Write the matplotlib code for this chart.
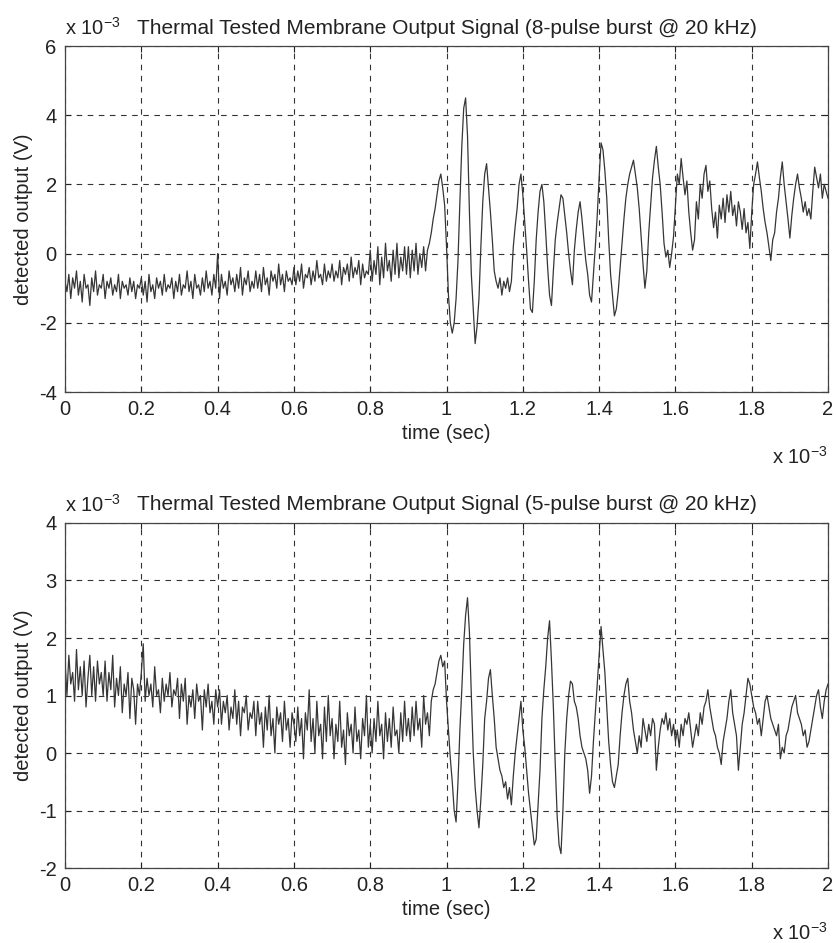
import matplotlib
matplotlib.use('Agg')
import matplotlib.pyplot as plt
import numpy as np

plt.rcParams['font.family'] = ['Liberation Sans', 'DejaVu Sans']
plt.rcParams['mathtext.default'] = 'regular'
plt.rcParams['axes.unicode_minus'] = False

# time axis in ms (shown with a x 10^-3 multiplier), one sample every 0.005 ms
time_ms = np.round(np.arange(0, 401) * 0.005, 3)

# 8-pulse burst, values in mV (x 10^-3 V)
burst8 = [
    -0.8, -1.1, -0.6, -1.3, -0.7, -1.0, -0.5, -1.2, -0.8, -1.4, -0.6, -1.0, -0.9, -1.5, -0.7, -1.1, -0.5, -1.2, -0.9, -1.0,
    -0.6, -1.3, -0.8, -1.0, -0.7, -1.2, -0.9, -1.1, -0.6, -1.3, -0.8, -1.0, -0.9, -1.2, -0.7, -1.1, -0.8, -1.3, -0.9, -1.0,
    -0.7, -1.2, -0.8, -1.4, -0.6, -1.1, -0.9, -1.3, -0.7, -1.0, -0.8, -1.2, -0.6, -1.1, -0.9, -1.0, -0.7, -1.3, -0.8, -1.1,
    -0.6, -1.2, -0.9, -1.0, -0.5, -1.1, -0.8, -1.3, -0.6, -1.0, -0.9, -1.2, -0.7, -1.1, -0.5, -1.0, -0.8, -1.2, -0.6, -1.0,
    0.0, -1.3, -0.6, -1.0, -0.8, -1.2, -0.5, -0.9, -0.7, -1.1, -0.6, -1.0, -0.4, -1.2, -0.7, -0.9, -0.5, -1.1, -0.8, -1.0,
    -0.5, -1.0, -0.6, -1.1, -0.4, -0.9, -0.7, -1.2, -0.5, -0.8, -0.6, -1.0, -0.3, -0.9, -0.6, -1.1, -0.5, -0.8, -0.7, -0.9,
    -0.4, -0.9, -0.5, -0.8, -0.3, -1.0, -0.6, -0.7, -0.4, -0.9, -0.5, -0.8, -0.2, -0.7, -0.6, -0.9, -0.3, -0.8, -0.5, -0.7,
    -0.3, -0.8, -0.5, -0.7, -0.2, -0.9, -0.4, -0.6, -0.3, -0.8, -0.1, -0.7, -0.4, -0.6, -0.2, -0.9, -0.3, -0.7, -0.5, -0.6,
    0.1, -0.8, -0.2, -0.6, 0.2, -0.9, -0.1, -0.7, 0.3, -0.5, -0.2, -0.8, 0.1, -0.6, 0.3, -0.7, -0.1, -0.5, 0.2, -0.6,
    0.2, -0.7, 0.1, -0.5, 0.3, -0.6, 0.0, -0.4, 0.2, -0.5, 0.1, 0.3, 0.6, 1.0, 1.3, 1.7, 2.1, 2.3, 1.9, 1.4,
    0.2, -1.2, -2.0, -2.3, -2.0, -1.3, -0.2, 1.5, 3.1, 4.2, 4.5, 3.4, 1.2, -0.6, -1.6, -2.6, -2.1, -1.3, 0.2, 1.5,
    2.3, 2.6, 1.9, 1.2, 0.4, -0.5, -0.8, -1.0, -0.7, -1.2, -0.8, -1.0, -0.7, -1.1, -0.8, 0.2, 0.8, 1.3, 2.0, 2.3,
    1.7, 0.9, 0.1, -0.8, -1.6, -1.7, -0.8, 0.4, 1.2, 1.8, 2.0, 1.5, 0.6, -0.4, -1.2, -1.5, -0.5, 0.4, 0.9, 1.3,
    1.7, 1.6, 1.1, 0.6, 0.0, -0.5, -0.9, 0.1, 0.7, 1.2, 1.5, 1.0, 0.4, -0.2, -0.6, -1.2, -1.4, -0.6, 0.2, 1.1,
    2.2, 3.2, 3.0, 2.4, 1.6, 0.4, -0.6, -1.2, -1.8, -1.6, -1.1, -0.4, 0.3, 1.0, 1.6, 2.0, 2.3, 2.5, 2.7, 2.3,
    1.9, 1.3, 0.5, -0.3, -1.0, -0.5, 0.6, 1.4, 2.2, 2.7, 3.1, 2.5, 2.0, 1.2, 0.3, -0.1, 0.1, -0.4, 0.0, 0.5,
    1.4, 2.3, 2.0, 2.75, 2.2, 1.7, 2.1, 1.2, 0.6, 0.1, 0.4, 1.5, 1.0, 2.0, 1.6, 2.3, 2.55, 1.8, 2.1, 1.3,
    0.75, 1.2, 0.45, 1.4, 1.0, 1.6, 0.9, 1.7, 1.2, 1.8, 1.1, 1.4, 0.8, 1.5, 1.2, 0.7, 1.3, 0.6, 0.9, 0.15,
    1.2, 2.0, 2.3, 2.65, 2.2, 1.8, 1.3, 0.9, 0.6, 0.2, -0.2, 0.4, 0.6, 1.2, 1.6, 2.2, 2.65, 2.0, 1.5, 1.0,
    0.45, 1.1, 1.6, 2.0, 2.3, 1.9, 1.6, 1.2, 1.5, 1.1, 1.3, 1.0, 1.8, 2.5, 2.2, 1.9, 2.3, 1.6, 2.0, 1.8,
    1.6,
]

# 5-pulse burst, values in mV
burst5 = [
    1.6, 1.0, 1.7, 1.2, 1.4, 0.9, 1.8, 1.1, 1.5, 1.0, 1.6, 0.8, 1.3, 1.7, 1.0, 1.5, 0.9, 1.6, 1.2, 1.4,
    1.0, 1.6, 0.9, 1.4, 1.1, 1.7, 0.8, 1.3, 1.0, 1.5, 0.7, 1.2, 1.0, 1.4, 0.6, 1.3, 1.1, 0.5, 1.2, 1.0,
    1.4, 1.9, 0.9, 1.3, 1.0, 1.2, 0.8, 1.5, 1.0, 1.1, 0.7, 1.3, 0.9, 1.2, 1.0, 1.4, 0.8, 1.1, 1.0, 1.3,
    0.6, 1.2, 0.9, 1.3, 0.5, 1.0, 0.8, 1.1, 0.6, 1.2, 0.9, 1.0, 0.4, 1.1, 0.8, 1.2, 0.7, 0.9, 0.5, 1.1,
    0.8, 1.1, 0.5, 0.9, 0.7, 1.0, 0.4, 0.8, 0.6, 1.1, 0.5, 0.9, 0.3, 0.8, 0.7, 1.0, 0.4, 0.7, 0.6, 0.9,
    0.3, 0.9, 0.5, 0.7, 0.1, 0.8, 0.4, 1.0, 0.3, 0.6, 0.0, 0.8, 0.5, 0.7, 0.2, 0.9, 0.4, 0.6, 0.1, 0.7,
    0.5, 0.2, 0.8, 0.3, 0.6, -0.1, 0.7, 0.4, 1.1, 0.2, 0.6, 0.0, 0.9, 0.3, 0.5, -0.1, 0.8, 0.2, 1.0, 0.3,
    0.6, -0.1, 0.5, 0.2, 0.9, 0.1, 0.4, -0.2, 0.7, 0.3, 0.5, 0.0, 0.8, 0.2, 0.4, -0.1, 0.6, 0.3, 1.0, 0.1,
    0.5, 0.0, 0.6, 0.2, 0.9, 0.3, 0.5, -0.1, 0.7, 0.2, 0.6, 0.1, 0.8, 0.3, 0.4, 0.0, 0.7, 0.2, 0.9, 0.3,
    0.6, 0.2, 0.8, 0.3, 0.9, 0.4, 0.6, 0.1, 1.0, 0.5, 0.7, 0.3, 0.9, 1.1, 1.2, 1.4, 1.6, 1.7, 1.5, 1.6,
    0.9, 0.4, -0.1, -0.5, -1.0, -1.2, -0.5, 0.4, 1.1, 1.9, 2.4, 2.7, 2.1, 1.0, 0.0, -0.6, -1.0, -1.3, -0.8, -0.2,
    0.6, 0.9, 1.3, 1.45, 1.0, 0.6, 0.1, -0.1, -0.3, -0.4, -0.6, -0.5, -0.8, -0.6, -0.9, -0.4, 0.0, 0.3, 0.6, 0.9,
    0.4, 0.1, -0.3, -0.7, -1.0, -1.3, -1.6, -1.5, -0.9, -0.3, 0.6, 1.1, 1.5, 2.0, 2.3, 1.6, 0.8, -0.2, -1.1, -1.6,
    -1.75, -1.0, 0.0, 0.6, 1.0, 1.25, 1.2, 0.9, 0.8, 0.6, 0.3, 0.1, 0.0, -0.1, -0.3, -0.7, -0.4, 0.2, 0.7, 1.2,
    1.7, 2.2, 1.8, 1.4, 0.8, 0.2, -0.2, -0.5, -0.6, -0.4, -0.2, 0.3, 0.7, 1.0, 1.2, 1.3, 0.9, 0.7, 0.4, 0.2,
    0.0, 0.3, 0.1, 0.6, 0.4, 0.2, 0.5, 0.3, 0.6, 0.5, -0.3, 0.1, 0.4, 0.6, 0.5, 0.7, 0.4, 0.6, 0.3, 0.5,
    0.2, 0.4, 0.1, 0.5, 0.3, 0.6, 0.5, 0.7, 0.4, 0.1, 0.3, 0.5, 0.3, 0.7, 0.5, 0.8, 0.9, 1.1, 0.8, 0.6,
    0.4, 0.3, 0.1, 0.0, -0.2, 0.2, 0.4, 0.6, 0.9, 1.1, 0.7, 0.5, 0.3, -0.3, 0.1, 0.5, 0.7, 1.0, 1.3, 1.2,
    1.0, 0.8, 0.7, 0.5, 0.6, 0.3, 0.6, 0.9, 1.0, 0.8, 0.6, 0.5, 0.4, 0.3, 0.5, -0.1, 0.1, 0.0, 0.3, 0.4,
    0.6, 0.8, 0.9, 1.0, 0.7, 0.6, 0.5, 0.3, 0.4, 0.1, 0.2, 0.4, 0.6, 0.8, 1.0, 1.1, 0.8, 0.6, 0.9, 1.1,
    1.2,
]

titles = ['Thermal Tested Membrane Output Signal (8-pulse burst @ 20 kHz)',
          'Thermal Tested Membrane Output Signal (5-pulse burst @ 20 kHz)']
y_limits = [(-4, 6), (-2, 4)]
y_steps = [2, 1]
x_ticks = [0, 0.2, 0.4, 0.6, 0.8, 1, 1.2, 1.4, 1.6, 1.8, 2]
x_ticklabels = ['0', '0.2', '0.4', '0.6', '0.8', '1', '1.2', '1.4', '1.6', '1.8', '2']

fs = 14.5
fig = plt.figure(figsize=(8.37, 9.43), dpi=100)
ax_top = fig.add_axes([0.0777, 0.5843, 0.9116, 0.3669])
ax_bot = fig.add_axes([0.0777, 0.0795, 0.9116, 0.3659])

for ax, sig, title, ylim, ystep in zip([ax_top, ax_bot], [burst8, burst5], titles, y_limits, y_steps):
    ax.plot(time_ms, sig, color='#363636', lw=0.9)
    ax.set_xlim(0, 2)
    ax.set_ylim(*ylim)
    ax.set_xticks(x_ticks)
    ax.set_xticklabels(x_ticklabels)
    ax.set_yticks(np.arange(ylim[0], ylim[1] + ystep, ystep))
    ax.grid(True, color='#333333', linestyle=(0, (5, 5)), lw=0.8)
    ax.tick_params(direction='in', top=True, right=True, length=4, labelsize=fs, pad=6, colors='#222222')
    for s in ax.spines.values():
        s.set_color('#444444')
        s.set_linewidth(0.9)
    ax.set_title(title, fontsize=15, pad=9, color='#222222')
    ax.set_xlabel('time (sec)', fontsize=fs, labelpad=3, color='#222222')
    ax.set_ylabel('detected output (V)', fontsize=fs, labelpad=4, color='#222222')
    # multiplier texts, as in the original figure
    ax.text(0.0, 1.022, r'x 10$^{-3}$', transform=ax.transAxes, ha='left', va='bottom',
            fontsize=fs, color='#222222')
    ax.text(1.0, -0.155, r'x 10$^{-3}$', transform=ax.transAxes, ha='right', va='top',
            fontsize=fs, color='#222222')

plt.savefig('out.png', dpi=100)
